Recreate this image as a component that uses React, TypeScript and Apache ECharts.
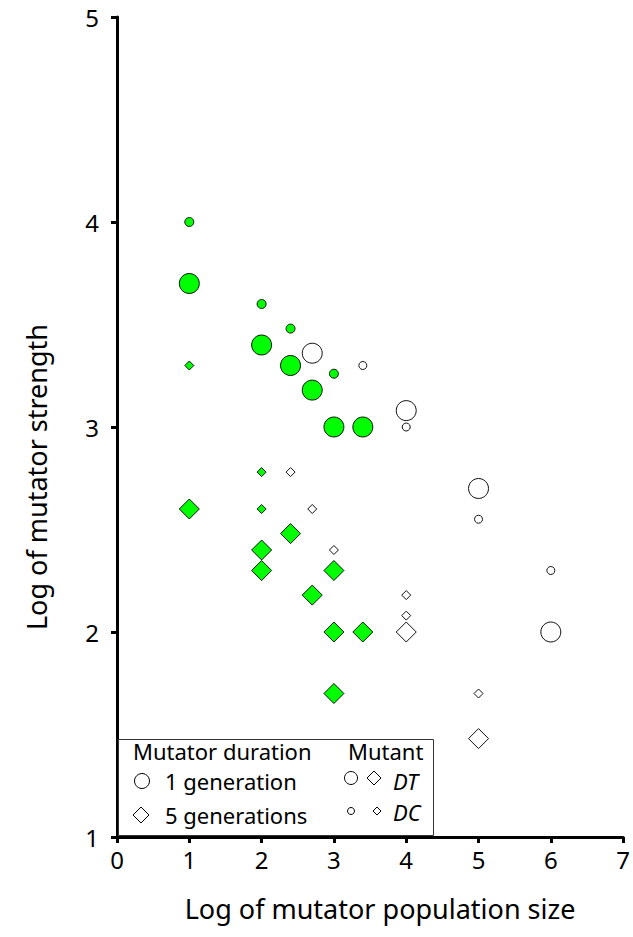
import React, { useEffect, useRef } from "react";
import * as echarts from "echarts";

const xTicks = [0, 1, 2, 3, 4, 5, 6, 7];
const yTicks = [1, 2, 3, 4, 5];

// 1 generation, DT (large circles), shaded
const greenBigCircles: [number, number][] = [[1, 3.7], [2, 3.4], [2.4, 3.3], [2.7, 3.18], [3, 3.0], [3.4, 3.0]];
// 1 generation, DC (small circles), shaded
const greenSmallCircles: [number, number][] = [[1, 4.0], [2, 3.6], [2.4, 3.48], [3, 3.26]];
// 1 generation, DT, open
const whiteBigCircles: [number, number][] = [[2.7, 3.36], [4, 3.08], [5, 2.7], [6, 2.0]];
// 1 generation, DC, open
const whiteSmallCircles: [number, number][] = [[3.4, 3.3], [4, 3.0], [5, 2.55], [6, 2.3]];
// 5 generations, DT, shaded
const greenBigDiamonds: [number, number][] = [[1, 2.6], [2, 2.4], [2, 2.3], [2.4, 2.48], [2.7, 2.18], [3, 2.3], [3, 2.0], [3.4, 2.0], [3, 1.7]];
// 5 generations, DC, shaded
const greenSmallDiamonds: [number, number][] = [[1, 3.3], [2, 2.78], [2, 2.6]];
// 5 generations, DT, open
const whiteBigDiamonds: [number, number][] = [[4, 2.0], [5, 1.48]];
// 5 generations, DC, open
const whiteSmallDiamonds: [number, number][] = [[2.4, 2.78], [2.7, 2.6], [3, 2.4], [4, 2.18], [4, 2.08], [5, 1.7]];

const FONT = '"Noto Sans", "Open Sans", sans-serif';
const GREEN = "#00ff00";

function mk(name: string, data: [number, number][], symbol: string, size: number, fill: string) {
  return {
    name,
    type: "scatter",
    data,
    symbol,
    symbolSize: size,
    itemStyle: { color: fill, borderColor: "#111", borderWidth: 1, opacity: 1 },
    z: size > 12 ? 2 : 3,
  };
}

export default function App() {
  const ref = useRef<HTMLDivElement>(null);
  useEffect(() => {
    if (!ref.current) return;
    const chart = echarts.init(ref.current, null, { renderer: "svg" });
    const legendFont = `22px ${FONT}`;
    chart.setOption({
      animation: false,
      backgroundColor: "#fff",
      grid: { left: 117, right: 6, top: 17, bottom: 100, containLabel: false },
      xAxis: {
        type: "value",
        min: xTicks[0],
        max: xTicks[xTicks.length - 1],
        interval: 1,
        splitLine: { show: false },
        axisLine: { show: true, onZero: false, lineStyle: { color: "#000", width: 3 } },
        axisTick: { show: true, length: 6, lineStyle: { color: "#000", width: 3 } },
        axisLabel: { margin: 10, color: "#000", fontSize: 24, fontFamily: FONT },
        name: "Log of mutator population size",
        nameLocation: "middle",
        nameGap: 58,
        nameTextStyle: { color: "#000", fontSize: 27, fontFamily: FONT, padding: [0, 0, 0, 20] },
      },
      yAxis: {
        type: "value",
        min: yTicks[0],
        max: yTicks[yTicks.length - 1],
        interval: 1,
        splitLine: { show: false },
        axisLine: { show: true, onZero: false, lineStyle: { color: "#000", width: 3 } },
        axisTick: { show: true, length: 6, lineStyle: { color: "#000", width: 3 } },
        axisLabel: { margin: 18, color: "#000", fontSize: 24, fontFamily: FONT },
      },
      graphic: [
        {
          type: "text",
          x: 36,
          y: 477,
          rotation: Math.PI / 2,
          style: { text: "Log of mutator strength", font: `27px ${FONT}`, fill: "#000", align: "center", verticalAlign: "middle" },
        },
        {
          type: "rect",
          shape: { x: 118.5, y: 739.5, width: 315, height: 96 },
          style: { fill: "#fff", stroke: "#333", lineWidth: 1 },
          z: 10,
        },
        { type: "text", x: 133, y: 750.5, z: 11, style: { text: "Mutator duration", font: legendFont, fill: "#000", verticalAlign: "middle" } },
        { type: "text", x: 348, y: 750.5, z: 11, style: { text: "Mutant", font: legendFont, fill: "#000", verticalAlign: "middle" } },
        { type: "circle", shape: { cx: 142, cy: 781, r: 7.5 }, z: 11, style: { fill: "#fff", stroke: "#000", lineWidth: 1 } },
        { type: "text", x: 165, y: 781, z: 11, style: { text: "1 generation", font: legendFont, fill: "#000", verticalAlign: "middle" } },
        { type: "polygon", shape: { points: [[141, 807], [149, 815], [141, 823], [133, 815]] }, z: 11, style: { fill: "#fff", stroke: "#000", lineWidth: 1 } },
        { type: "text", x: 165, y: 815, z: 11, style: { text: "5 generations", font: legendFont, fill: "#000", verticalAlign: "middle" } },
        { type: "circle", shape: { cx: 351, cy: 778, r: 6.5 }, z: 11, style: { fill: "#fff", stroke: "#000", lineWidth: 1 } },
        { type: "polygon", shape: { points: [[374, 771], [381, 778], [374, 785], [367, 778]] }, z: 11, style: { fill: "#fff", stroke: "#000", lineWidth: 1 } },
        { type: "text", x: 393, y: 780.5, z: 11, style: { text: "DT", font: `italic ${legendFont}`, fill: "#000", verticalAlign: "middle" } },
        { type: "circle", shape: { cx: 351, cy: 811, r: 3.5 }, z: 11, style: { fill: "#fff", stroke: "#000", lineWidth: 1 } },
        { type: "polygon", shape: { points: [[377, 807], [381, 811], [377, 815], [373, 811]] }, z: 11, style: { fill: "#fff", stroke: "#000", lineWidth: 1 } },
        { type: "text", x: 393, y: 812, z: 11, style: { text: "DC", font: `italic ${legendFont}`, fill: "#000", verticalAlign: "middle" } },
      ],
      series: [
        mk("1 gen DT (shaded)", greenBigCircles, "circle", 20, GREEN),
        mk("1 gen DC (shaded)", greenSmallCircles, "circle", 9, GREEN),
        mk("1 gen DT (open)", whiteBigCircles, "circle", 20, "#fff"),
        mk("1 gen DC (open)", whiteSmallCircles, "circle", 8, "#fff"),
        mk("5 gen DT (shaded)", greenBigDiamonds, "diamond", 20, GREEN),
        mk("5 gen DC (shaded)", greenSmallDiamonds, "diamond", 9, GREEN),
        mk("5 gen DT (open)", whiteBigDiamonds, "diamond", 20, "#fff"),
        mk("5 gen DC (open)", whiteSmallDiamonds, "diamond", 9, "#fff"),
      ],
    });
    return () => chart.dispose();
  }, []);
  return <div ref={ref} style={{ width: 633, height: 937, position: "absolute", left: 0, top: 0 }} />;
}
